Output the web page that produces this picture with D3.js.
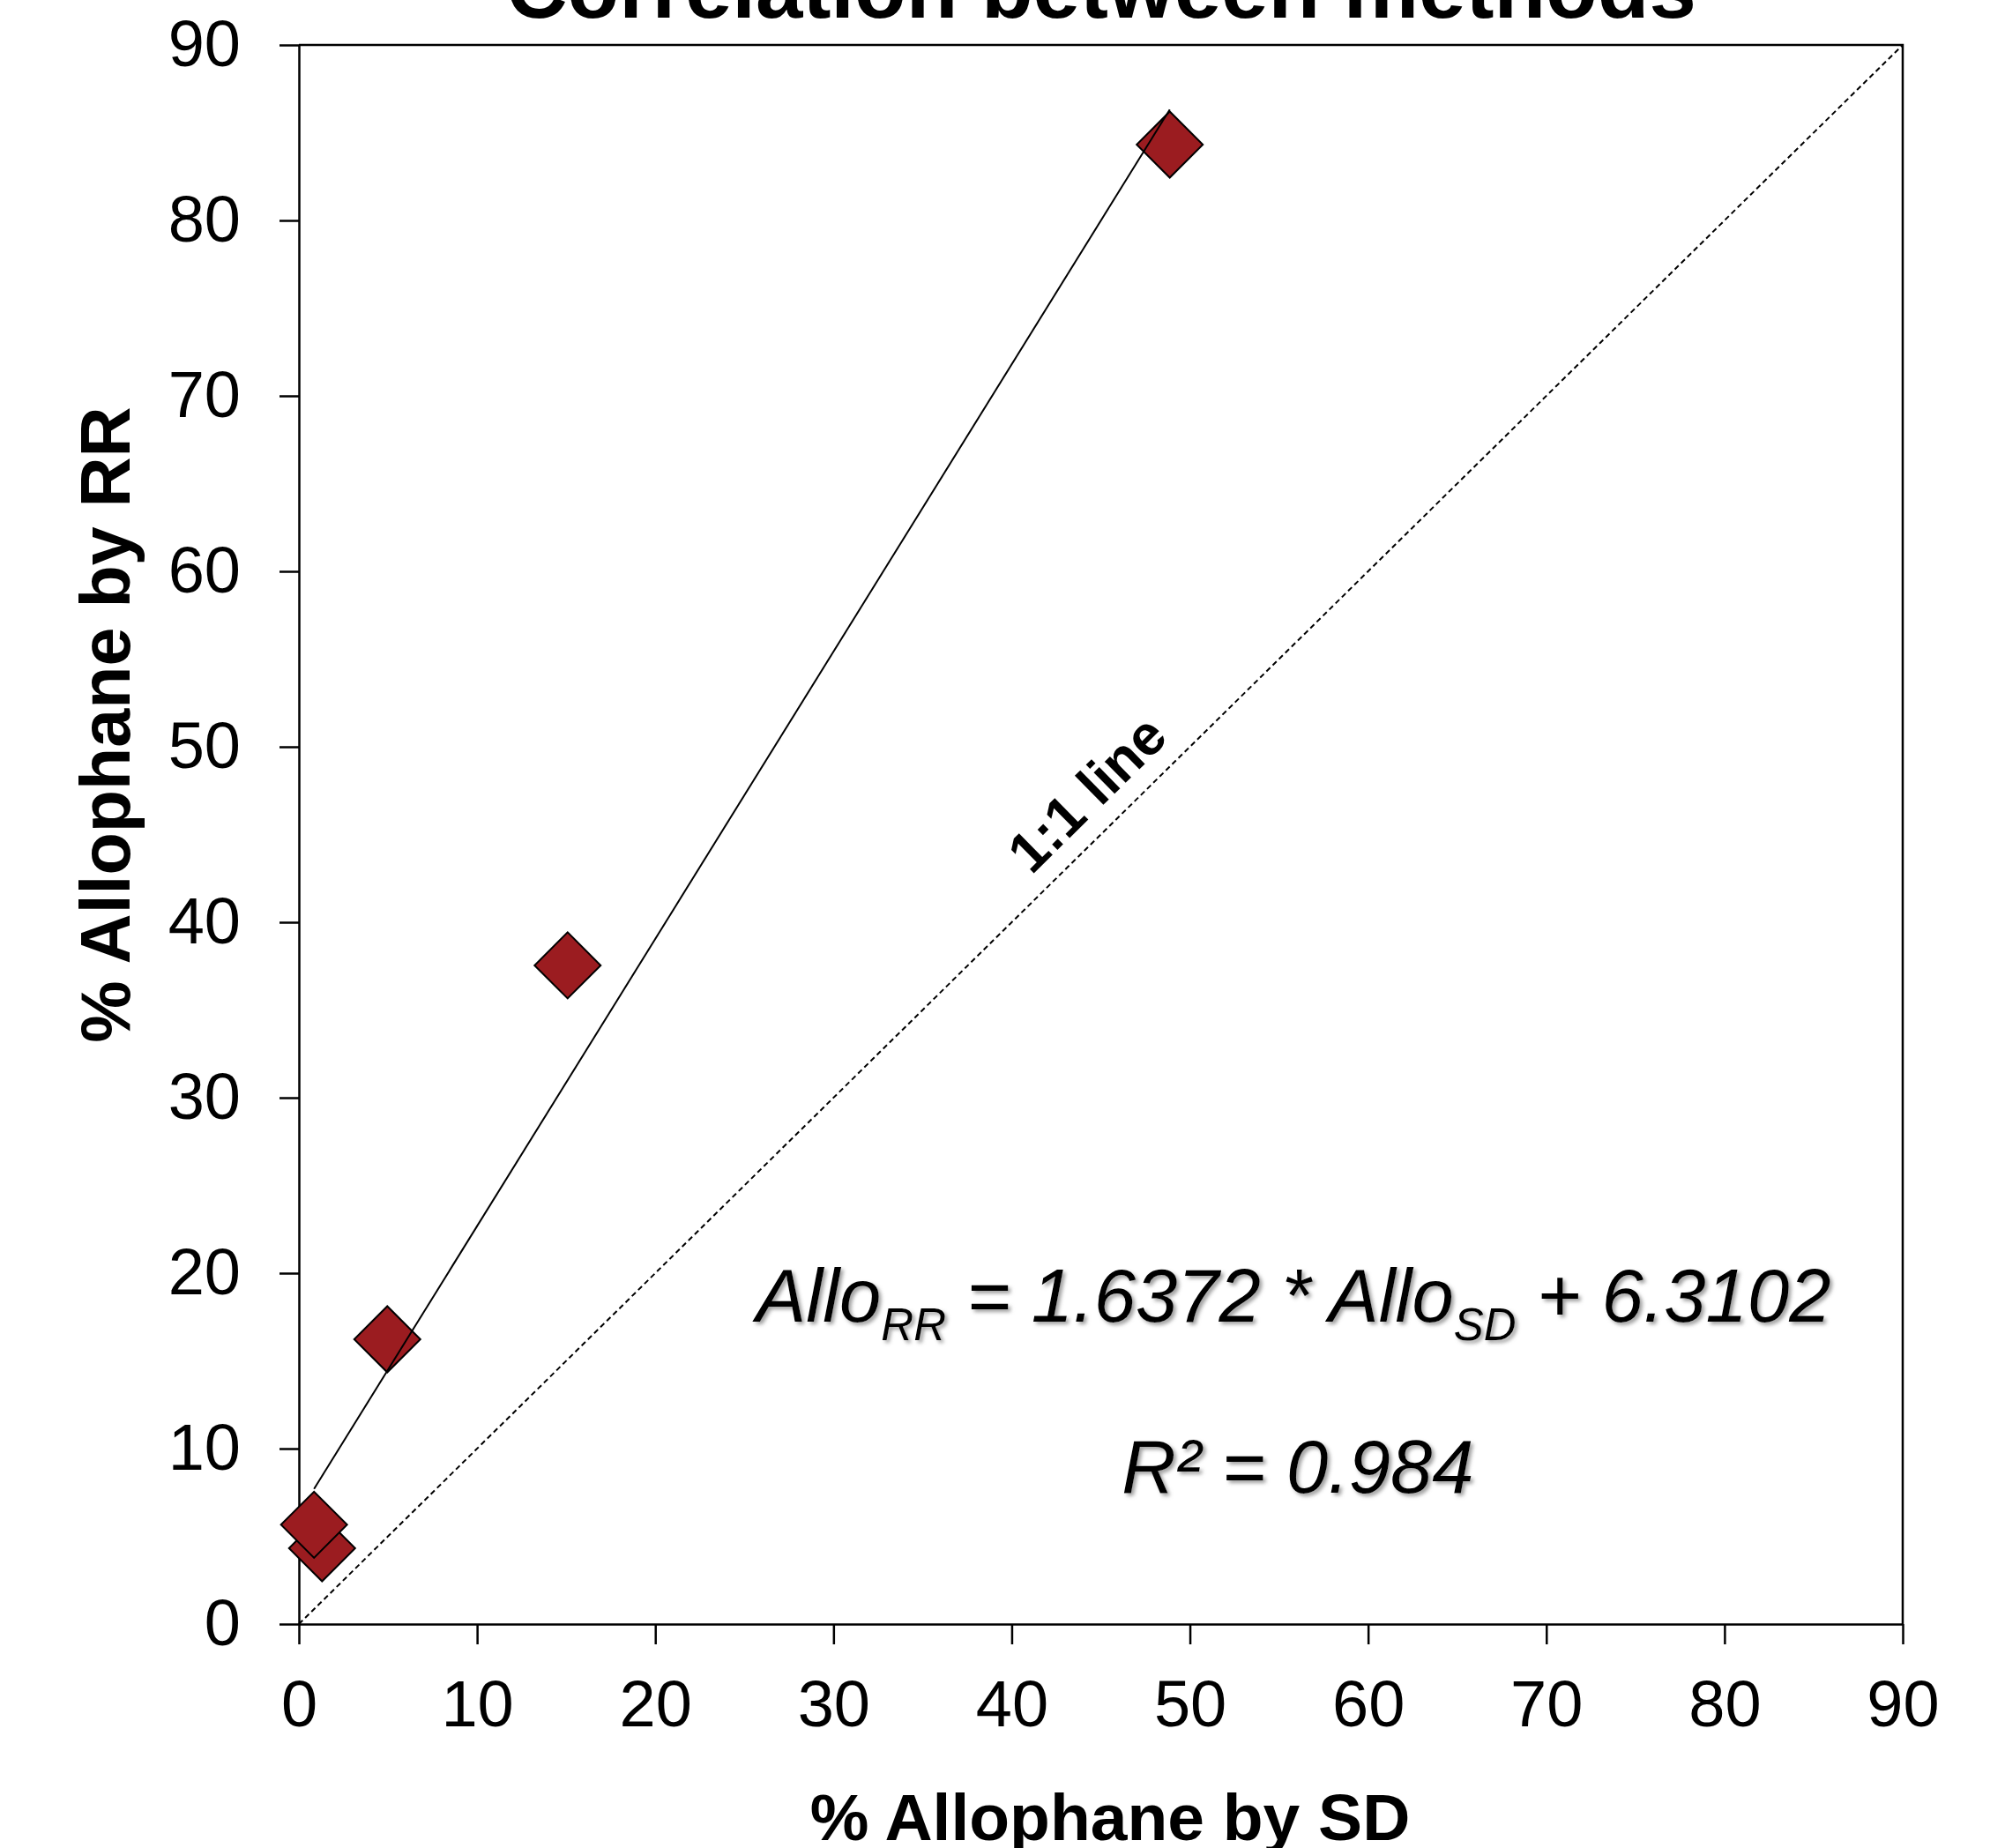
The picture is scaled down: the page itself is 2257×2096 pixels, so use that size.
<!DOCTYPE html>
<html>
<head>
<meta charset="utf-8">
<script src="https://cdn.jsdelivr.net/npm/d3@7"></script>
<style>
  body { margin: 0; background: #fff; }
  svg { display: block; font-family: "Liberation Sans", Arial, sans-serif; }
</style>
</head>
<body>
<svg width="2257" height="2096"></svg>
<script>
'use strict'

// data
const sdValues = [1.30, 0.85, 4.96, 15.08, 48.87];   // % allophane by SD (x)
const rrValues = [4.32, 5.66, 16.23, 37.54, 84.32];  // % allophane by RR (y)
const xTicks = [0, 10, 20, 30, 40, 50, 60, 70, 80, 90];
const yTicks = [0, 10, 20, 30, 40, 50, 60, 70, 80, 90];
const slope = 1.6372;
const intercept = 6.3102;
const rSquared = '0.984';

const WIDTH = 2257;
const HEIGHT = 2096;
const margin = { top: 51, right: 99, bottom: 254, left: 339 };

const svg = d3.select('svg');

const x = d3.scaleLinear().domain([0, 90]).range([margin.left, WIDTH - margin.right]);
const y = d3.scaleLinear().domain([0, 90]).range([HEIGHT - margin.bottom, margin.top]);

const defs = svg.append('defs');
defs.append('filter')
  .attr('id', 'shadow')
  .attr('x', '-10%').attr('y', '-30%')
  .attr('width', '120%').attr('height', '160%')
  .append('feDropShadow')
  .attr('dx', 3).attr('dy', 3)
  .attr('stdDeviation', 2)
  .attr('flood-color', '#777')
  .attr('flood-opacity', 0.7);

// frame (top and right)
svg.append('path')
  .attr('d', `M${x(0)},${y(90)}H${x(90)}V${y(0)}`)
  .attr('fill', 'none')
  .attr('stroke', '#000')
  .attr('stroke-width', 2.5);

const xAxis = svg.append('g')
  .attr('transform', `translate(0,${y(0)})`)
  .call(d3.axisBottom(x).tickValues(xTicks).tickSize(23).tickSizeOuter(0).tickPadding(40));

const yAxis = svg.append('g')
  .attr('transform', `translate(${x(0)},0)`)
  .call(d3.axisLeft(y).tickValues(yTicks).tickSize(22).tickSizeOuter(0).tickPadding(44));

[xAxis, yAxis].forEach(g => {
  g.selectAll('path, line').attr('stroke', '#000').attr('stroke-width', 2.5);
  g.selectAll('text')
    .attr('fill', '#000')
    .style('font-size', '74px')
    .style('font-family', '"Liberation Sans", Arial, sans-serif');
});

// 1:1 line
svg.append('line')
  .attr('x1', x(0)).attr('y1', y(0))
  .attr('x2', x(90)).attr('y2', y(90))
  .attr('stroke', '#000')
  .attr('stroke-width', 2)
  .attr('stroke-dasharray', '6,4');

const angle = Math.atan2(y(90) - y(0), x(90) - x(0)) * 180 / Math.PI;
svg.append('text')
  .attr('transform', `translate(${x(45.75)},${y(45.75)}) rotate(${angle})`)
  .attr('y', -22)
  .attr('text-anchor', 'middle')
  .style('font-size', '64px')
  .style('font-weight', 'bold')
  .text('1:1 line');

// points
const points = sdValues.map((v, i) => ({ sd: v, rr: rrValues[i] }));

svg.append('g')
  .selectAll('path')
  .data(points)
  .join('path')
  .attr('d', d3.symbol(d3.symbolSquare, 2812))
  .attr('transform', d => `translate(${x(d.sd)},${y(d.rr)}) rotate(45)`)
  .attr('fill', '#9b1c20')
  .attr('stroke', '#000')
  .attr('stroke-width', 2);

// trend line over the data range
const xMin = d3.min(sdValues);
const xMax = d3.max(sdValues);
svg.append('line')
  .attr('x1', x(xMin)).attr('y1', y(slope * xMin + intercept))
  .attr('x2', x(xMax)).attr('y2', y(slope * xMax + intercept))
  .attr('stroke', '#000')
  .attr('stroke-width', 2);

// equation
const eq = svg.append('text')
  .attr('x', 1467)
  .attr('y', 1499)
  .attr('text-anchor', 'middle')
  .attr('filter', 'url(#shadow)')
  .style('font-size', '85px')
  .style('font-style', 'italic');
eq.append('tspan').text('Allo');
eq.append('tspan').attr('dy', 21).style('font-size', '51px').text('RR');
eq.append('tspan').attr('dy', -21).text(` = ${slope} * Allo`);
eq.append('tspan').attr('dy', 21).style('font-size', '51px').text('SD');
eq.append('tspan').attr('dy', -21).text(` + ${intercept}`);

svg.append('text')
  .attr('x', 1472)
  .attr('y', 1693)
  .attr('text-anchor', 'middle')
  .attr('filter', 'url(#shadow)')
  .style('font-size', '85px')
  .style('font-style', 'italic')
  .text(`R² = ${rSquared}`);

// titles
svg.append('text')
  .attr('x', 1249)
  .attr('y', 20)
  .attr('text-anchor', 'middle')
  .style('font-size', '96px')
  .style('font-weight', 'bold')
  .text('Correlation between methods');

svg.append('text')
  .attr('x', 1259)
  .attr('y', 2087)
  .attr('text-anchor', 'middle')
  .style('font-size', '75px')
  .style('font-weight', 'bold')
  .text('% Allophane by SD');

svg.append('text')
  .attr('transform', 'translate(147,822) rotate(-90)')
  .attr('text-anchor', 'middle')
  .style('font-size', '79px')
  .style('font-weight', 'bold')
  .text('% Allophane by RR');
</script>
</body>
</html>
